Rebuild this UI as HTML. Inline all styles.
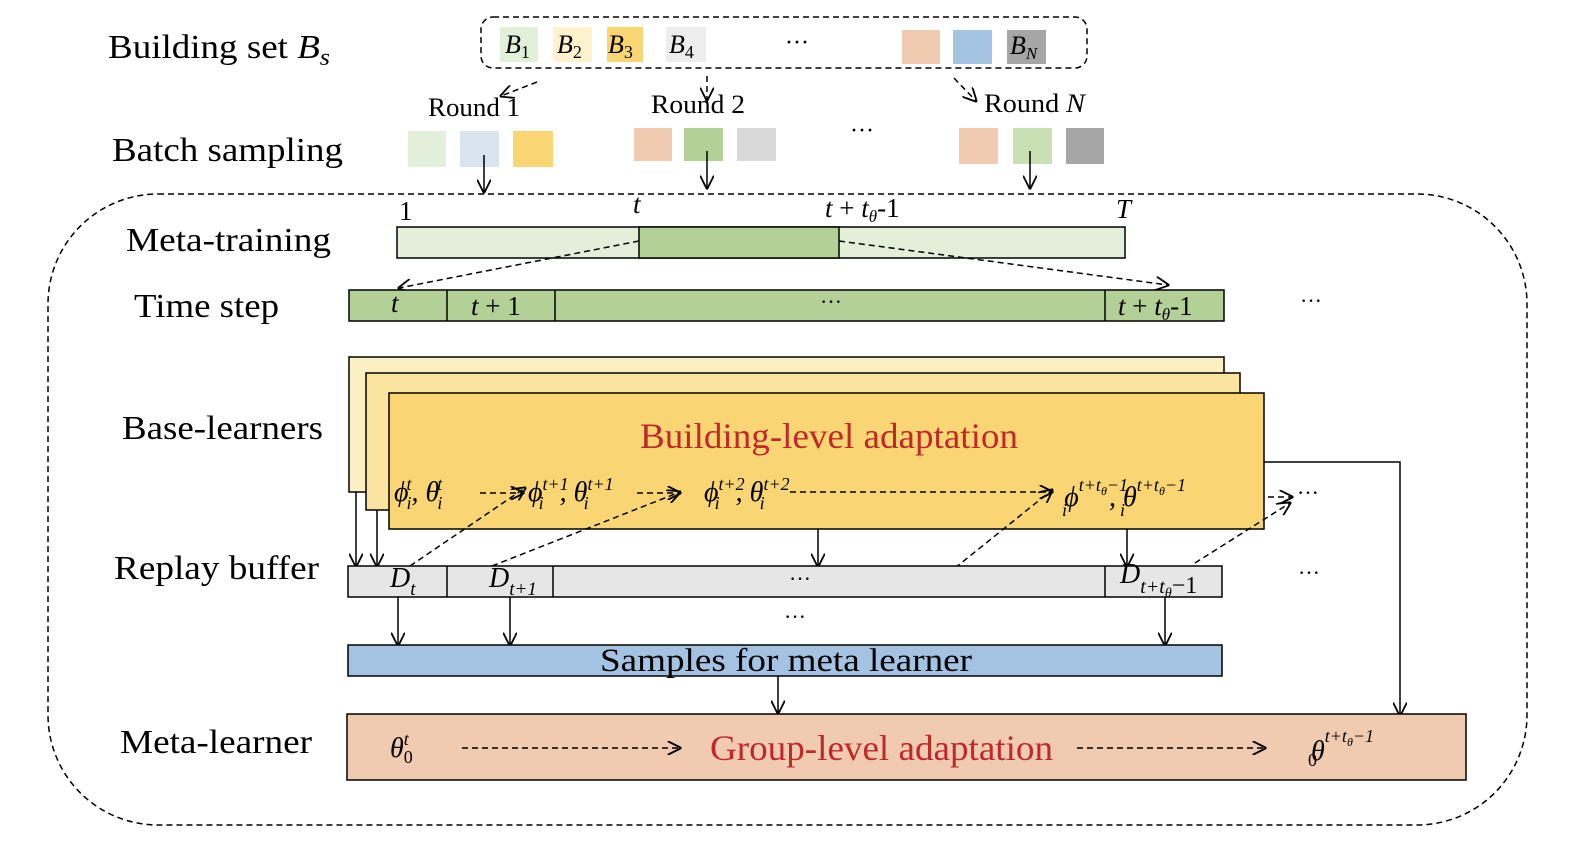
<!DOCTYPE html>
<html><head><meta charset="utf-8"><style>
html,body{margin:0;padding:0;background:#fff;overflow:hidden;}
svg{display:block;}
text{font-family:"Liberation Serif",serif;fill:#000;}
.m{font-family:"Liberation Serif",serif;font-style:italic;}
</style></head><body>
<svg width="1582" height="856" viewBox="0 0 1582 856" xmlns="http://www.w3.org/2000/svg">
<defs>
<marker id="a" viewBox="0 0 10 10" refX="9" refY="5" markerWidth="14" markerHeight="14" markerUnits="userSpaceOnUse" orient="auto"><path d="M0,0 L10,5 L0,10" fill="none" stroke="#000" stroke-width="1.3"/></marker>
</defs>
<g font-size="34" lengthAdjust="spacingAndGlyphs">
<text x="108" y="58" textLength="222" lengthAdjust="spacingAndGlyphs">Building set <tspan class="m">B</tspan><tspan class="m" font-size="24" dy="7">s</tspan></text>
<text x="112" y="161" textLength="231" lengthAdjust="spacingAndGlyphs">Batch sampling</text>
<text x="126" y="251" textLength="205" lengthAdjust="spacingAndGlyphs">Meta-training</text>
<text x="134" y="317" textLength="145" lengthAdjust="spacingAndGlyphs">Time step</text>
<text x="122" y="439" textLength="201" lengthAdjust="spacingAndGlyphs">Base-learners</text>
<text x="114" y="579" textLength="205" lengthAdjust="spacingAndGlyphs">Replay buffer</text>
<text x="120" y="753" textLength="192" lengthAdjust="spacingAndGlyphs">Meta-learner</text>
</g>
<!-- top set -->
<rect x="481" y="17" width="606" height="51" rx="12" fill="none" stroke="#000" stroke-width="1.5" stroke-dasharray="6,4"/>
<rect x="500" y="27" width="38" height="35" fill="#e2efd9"/>
<rect x="553" y="27" width="39" height="35" fill="#fff2cc"/>
<rect x="607" y="27" width="36" height="35" fill="#f9d673"/>
<rect x="666" y="27" width="40" height="35" fill="#ededed"/>
<rect x="902" y="30" width="38" height="34" fill="#f0cbb0"/>
<rect x="953" y="30" width="39" height="34" fill="#a4c2e1"/>
<rect x="1007" y="30" width="39" height="34" fill="#a6a6a6"/>
<g font-size="26" class="m">
<text x="505" y="53">B<tspan font-size="18" dy="5" style="font-style:normal">1</tspan></text>
<text x="557" y="53">B<tspan font-size="18" dy="5" style="font-style:normal">2</tspan></text>
<text x="608" y="53">B<tspan font-size="18" dy="5" style="font-style:normal">3</tspan></text>
<text x="669" y="53">B<tspan font-size="18" dy="5" style="font-style:normal">4</tspan></text>
<text x="1010" y="54">B<tspan font-size="17" dy="5">N</tspan></text>
</g>
<text x="785" y="50" font-size="24">···</text>
<g font-size="26">
<text x="428" y="116" textLength="92" lengthAdjust="spacingAndGlyphs">Round 1</text>
<text x="651" y="113" textLength="94" lengthAdjust="spacingAndGlyphs">Round 2</text>
<text x="984" y="112" textLength="101" lengthAdjust="spacingAndGlyphs">Round <tspan class="m">N</tspan></text>
</g>
<g stroke="#000" stroke-width="1.5" fill="none" stroke-dasharray="6,4" marker-end="url(#a)">
<line x1="537" y1="82" x2="501" y2="96"/>
<line x1="707" y1="76" x2="707" y2="100"/>
<line x1="954" y1="78" x2="976" y2="101"/>
</g>
<!-- batch -->
<rect x="408" y="131" width="38" height="36" fill="#e2efd9"/>
<rect x="460" y="131" width="39" height="36" fill="#dae3f0"/>
<rect x="513" y="131" width="40" height="36" fill="#f9d673"/>
<rect x="634" y="128" width="38" height="33" fill="#f0cbb0"/>
<rect x="684" y="128" width="39" height="33" fill="#b3d096"/>
<rect x="737" y="128" width="39" height="33" fill="#d9d9d9"/>
<rect x="959" y="128" width="39" height="36" fill="#f0cbb0"/>
<rect x="1013" y="128" width="39" height="36" fill="#c9e0b5"/>
<rect x="1066" y="128" width="38" height="36" fill="#a6a6a6"/>
<text x="850" y="138" font-size="24">···</text>
<g stroke="#000" stroke-width="1.5" fill="none" marker-end="url(#a)">
<line x1="484" y1="155" x2="484" y2="192"/>
<line x1="707" y1="151" x2="707" y2="188"/>
<line x1="1030" y1="151" x2="1030" y2="188"/>
</g>
<!-- big dashed -->
<rect x="48" y="194" width="1479" height="631" rx="110" fill="none" stroke="#000" stroke-width="1.5" stroke-dasharray="6,4"/>
<!-- meta-training bar -->
<rect x="397" y="227" width="728" height="31" fill="#e2efd9" stroke="#000" stroke-width="1.5"/>
<rect x="639" y="227" width="200" height="31" fill="#b3d096" stroke="#000" stroke-width="1.5"/>
<g font-size="27">
<text x="399" y="220">1</text>
<text x="633" y="213" class="m">t</text>
<text x="825" y="217"><tspan class="m">t</tspan> + <tspan class="m">t</tspan><tspan class="m" font-size="17" dy="5">θ</tspan><tspan dy="-5">-1</tspan></text>
<text x="1116" y="218" class="m">T</text>
</g>
<g stroke="#000" stroke-width="1.5" fill="none" stroke-dasharray="6,4" marker-end="url(#a)">
<line x1="639" y1="241" x2="399" y2="288"/>
<line x1="839" y1="241" x2="1168" y2="285"/>
</g>
<!-- time step -->
<rect x="349" y="290" width="875" height="31" fill="#b3d096" stroke="#000" stroke-width="1.5"/>
<g stroke="#000" stroke-width="1.5"><line x1="447" y1="290" x2="447" y2="321"/><line x1="555" y1="290" x2="555" y2="321"/><line x1="1105" y1="290" x2="1105" y2="321"/></g>
<g font-size="27">
<text x="391" y="312" class="m">t</text>
<text x="471" y="315"><tspan class="m">t</tspan> + 1</text>
<text x="820" y="309" font-size="22">···</text>
<text x="1118" y="315"><tspan class="m">t</tspan> + <tspan class="m">t</tspan><tspan class="m" font-size="17" dy="5">θ</tspan><tspan dy="-5">-1</tspan></text>
<text x="1300" y="308" font-size="22">···</text>
</g>
<!-- base learners -->
<rect x="349" y="357" width="875" height="135" fill="#fdefc4" stroke="#000" stroke-width="1.5"/>
<rect x="366" y="373" width="874" height="137" fill="#fbe4a0" stroke="#000" stroke-width="1.5"/>
<rect x="389" y="393" width="875" height="136" fill="#f9d673" stroke="#000" stroke-width="1.5"/>
<text x="640" y="448" font-size="36" textLength="378" lengthAdjust="spacingAndGlyphs" style="fill:#c0282c">Building-level adaptation</text>
<g font-size="28" class="m">
<text x="394" y="501">ϕ<tspan font-size="18" dx="-2" dy="-11">t</tspan><tspan font-size="18" dx="-5" dy="19">i</tspan><tspan dy="-8">, θ</tspan><tspan font-size="18" dx="-2" dy="-11">t</tspan><tspan font-size="18" dx="-5" dy="19">i</tspan></text>
<text x="528" y="501">ϕ<tspan font-size="18" dy="-11">t+1</tspan><tspan font-size="18" dx="-30" dy="19">i</tspan><tspan dx="16" dy="-8">, θ</tspan><tspan font-size="18" dy="-11">t+1</tspan><tspan font-size="18" dx="-30" dy="19">i</tspan></text>
<text x="704" y="501">ϕ<tspan font-size="18" dy="-11">t+2</tspan><tspan font-size="18" dx="-30" dy="19">i</tspan><tspan dx="16" dy="-8">, θ</tspan><tspan font-size="18" dy="-11">t+2</tspan><tspan font-size="18" dx="-30" dy="19">i</tspan></text>
<text x="1062" y="506">ϕ<tspan font-size="18" dy="-15">t+t</tspan><tspan font-size="12" dy="4">θ</tspan><tspan font-size="18" dy="-4">−1</tspan><tspan font-size="18" dx="-66" dy="25">i</tspan><tspan dx="42" dy="-10">, θ</tspan><tspan font-size="18" dy="-15">t+t</tspan><tspan font-size="12" dy="4">θ</tspan><tspan font-size="18" dy="-4">−1</tspan><tspan font-size="18" dx="-66" dy="25">i</tspan></text>
</g>
<text x="1297" y="500" font-size="22">···</text>
<g stroke="#000" stroke-width="1.5" fill="none" stroke-dasharray="6,4" marker-end="url(#a)">
<line x1="480" y1="493" x2="523" y2="493"/>
<line x1="637" y1="493" x2="680" y2="493"/>
<line x1="790" y1="492" x2="1052" y2="492"/>
<line x1="1268" y1="497" x2="1292" y2="497"/>
<line x1="410" y1="566" x2="525" y2="488"/>
<line x1="492" y1="566" x2="680" y2="492"/>
<line x1="955" y1="568" x2="1052" y2="490"/>
<line x1="1195" y1="563" x2="1290" y2="503"/>
</g>
<polyline points="1264,462 1400,462 1400,715" fill="none" stroke="#000" stroke-width="1.5" marker-end="url(#a)"/>
<g stroke="#000" stroke-width="1.5" fill="none" marker-end="url(#a)">
<line x1="356" y1="492" x2="356" y2="566"/>
<line x1="377" y1="510" x2="377" y2="566"/>
<line x1="818" y1="529" x2="818" y2="566"/>
<line x1="1127" y1="529" x2="1127" y2="566"/>
</g>
<!-- replay -->
<rect x="348" y="566" width="874" height="31" fill="#e6e6e6" stroke="#000" stroke-width="1.5"/>
<g stroke="#000" stroke-width="1.5"><line x1="447" y1="566" x2="447" y2="597"/><line x1="553" y1="566" x2="553" y2="597"/><line x1="1105" y1="566" x2="1105" y2="597"/></g>
<g font-size="28" class="m">
<text x="390" y="587">D<tspan font-size="19" dy="8">t</tspan></text>
<text x="489" y="587">D<tspan font-size="19" dy="8">t+1</tspan></text>
<text x="1120" y="583">D<tspan font-size="20" dy="10">t+t</tspan><tspan font-size="14" dy="4">θ</tspan><tspan font-size="24" dy="-4" style="font-style:normal">−1</tspan></text>
</g>
<text x="789" y="586" font-size="22">···</text>
<text x="1298" y="580" font-size="22">···</text>
<text x="784" y="624" font-size="22">···</text>
<g stroke="#000" stroke-width="1.5" fill="none" marker-end="url(#a)">
<line x1="398" y1="597" x2="398" y2="645"/>
<line x1="510" y1="597" x2="510" y2="645"/>
<line x1="1165" y1="597" x2="1165" y2="645"/>
<line x1="778" y1="676" x2="778" y2="713"/>
</g>
<rect x="348" y="645" width="874" height="31" fill="#a4c2e1" stroke="#000" stroke-width="1.5"/>
<text x="600" y="671" font-size="33" textLength="372" lengthAdjust="spacingAndGlyphs">Samples for meta learner</text>
<!-- meta learner -->
<rect x="347" y="714" width="1119" height="66" fill="#f0cbb0" stroke="#000" stroke-width="1.5"/>
<text x="390" y="757" font-size="28" class="m">θ<tspan font-size="18" dy="-12">t</tspan><tspan font-size="18" dx="-5" dy="18" style="font-style:normal">0</tspan></text>
<text x="710" y="760" font-size="36" textLength="343" lengthAdjust="spacingAndGlyphs" style="fill:#c0282c">Group-level adaptation</text>
<text x="1308" y="760" font-size="28" class="m">θ<tspan font-size="18" dy="-18">t+t</tspan><tspan font-size="12" dy="4">θ</tspan><tspan font-size="18" dy="-4">−1</tspan><tspan font-size="18" dx="-66" dy="24" style="font-style:normal">0</tspan></text>
<g stroke="#000" stroke-width="1.5" fill="none" stroke-dasharray="6,4" marker-end="url(#a)">
<line x1="462" y1="748" x2="680" y2="748"/>
<line x1="1077" y1="748" x2="1265" y2="748"/>
</g>
</svg>
</body></html>
